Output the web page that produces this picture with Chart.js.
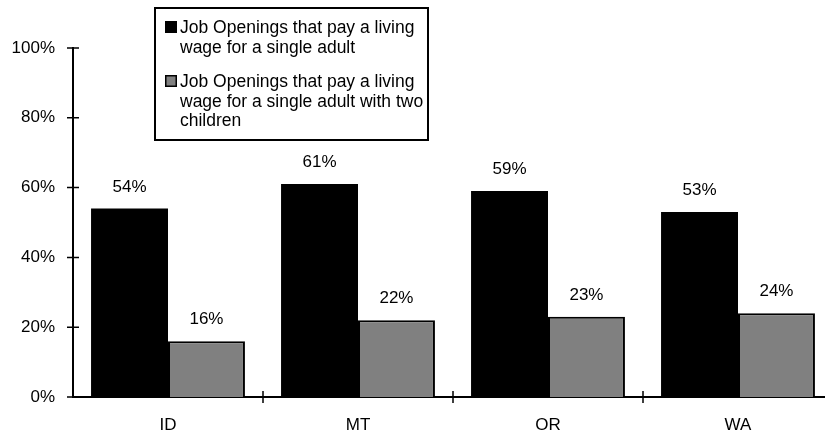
<!DOCTYPE html>
<html lang="en">
<head>
    <meta charset="UTF-8">
    <title>Living wage job openings</title>
    <script src="https://cdn.jsdelivr.net/npm/chart.js@4.4.1/dist/chart.umd.min.js"></script>
    <style>
        body { margin: 0; overflow: hidden; background: #fff; }
        #wrap { width: 845px; height: 434px; position: relative; }
    </style>
</head>
<body>
    <div id="wrap"><canvas id="grafica"></canvas></div>
    <script>
        // data
        const states = ['ID', 'MT', 'OR', 'WA'];
        const singleAdult = [54, 61, 59, 53];
        const withTwoKids = [16, 22, 23, 24];
        const seriesNames = [
            ['Job Openings that pay a living', 'wage for a single adult'],
            ['Job Openings that pay a living', 'wage for a single adult with two', 'children']
        ];
        const yTicks = [0, 20, 40, 60, 80, 100];

        const FAMILY = '"Liberation Sans", Arial, sans-serif';
        const FONT = '17px ' + FAMILY;

        // value labels above each bar
        const valueLabels = {
            id: 'valueLabels',
            afterDatasetsDraw(chart) {
                const ctx = chart.ctx;
                ctx.save();
                ctx.font = FONT;
                ctx.fillStyle = '#000';
                ctx.textAlign = 'center';
                ctx.textBaseline = 'alphabetic';
                chart.data.datasets.forEach((ds, i) => {
                    chart.getDatasetMeta(i).data.forEach((bar, j) => {
                        ctx.fillText(ds.data[j] + '%', bar.x, bar.y - 17);
                    });
                });
                ctx.restore();
            }
        };

        // tick marks that cross the axes
        const crossTicks = {
            id: 'crossTicks',
            afterDraw(chart) {
                const ctx = chart.ctx;
                const x = chart.scales.x, y = chart.scales.y;
                const area = chart.chartArea;
                ctx.save();
                ctx.strokeStyle = '#000';
                ctx.lineWidth = 1.5;
                ctx.beginPath();
                y.ticks.forEach((t, i) => {
                    const py = y.getPixelForTick(i);
                    ctx.moveTo(area.left - 6, py);
                    ctx.lineTo(area.left + 6, py);
                });
                for (let i = 1; i < states.length; i++) {
                    const px = (x.getPixelForValue(i - 1) + x.getPixelForValue(i)) / 2;
                    ctx.moveTo(px, area.bottom - 6);
                    ctx.lineTo(px, area.bottom + 6);
                }
                // axis line runs a little left of the y axis
                ctx.moveTo(area.left - 6, area.bottom);
                ctx.lineTo(area.left, area.bottom);
                ctx.stroke();
                ctx.restore();
            }
        };

        // boxed legend with wrapped labels
        const boxLegend = {
            id: 'boxLegend',
            afterDraw(chart) {
                const ctx = chart.ctx;
                ctx.save();
                ctx.fillStyle = '#fff';
                ctx.fillRect(155, 8, 273, 132);
                ctx.strokeStyle = '#000';
                ctx.lineWidth = 2;
                ctx.strokeRect(155, 8, 273, 132);
                ctx.font = '17.5px ' + FAMILY;
                ctx.textAlign = 'left';
                ctx.textBaseline = 'alphabetic';
                let base = 33;
                chart.data.datasets.forEach((ds, i) => {
                    ctx.fillStyle = ds.backgroundColor;
                    ctx.fillRect(165, base - 12, 12, 12);
                    if (i > 0) {
                        ctx.lineWidth = 1.5;
                        ctx.strokeRect(165.75, base - 11.25, 10.5, 10.5);
                    }
                    ctx.fillStyle = '#000';
                    seriesNames[i].forEach((line, k) => {
                        ctx.fillText(line, 180, base + k * 19.5);
                    });
                    base += seriesNames[i].length * 19.5 + 15;
                });
                ctx.restore();
            }
        };

        const ctx = document.getElementById('grafica').getContext('2d');
        const myChart = new Chart(ctx, {
            type: 'bar',
            data: {
                labels: states,
                datasets: [{
                    label: seriesNames[0].join(' '),
                    backgroundColor: '#000000',
                    borderWidth: 0,
                    data: singleAdult
                }, {
                    label: seriesNames[1].join(' '),
                    backgroundColor: '#808080',
                    borderColor: '#000000',
                    borderWidth: 2,
                    data: withTwoKids
                }]
            },
            options: {
                responsive: true,
                maintainAspectRatio: false,
                animation: false,
                layout: { padding: { top: 48, right: 12, left: 0, bottom: 0 } },
                datasets: { bar: { categoryPercentage: 0.81, barPercentage: 1.0 } },
                plugins: {
                    legend: { display: false },
                    tooltip: { enabled: false }
                },
                scales: {
                    x: {
                        grid: { display: false, drawTicks: false },
                        border: { display: true, color: '#000', width: 2 },
                        ticks: { color: '#000', font: { family: FAMILY, size: 17 }, padding: 18 },
                        afterFit(scale) { scale.height = 37; }
                    },
                    y: {
                        min: 0,
                        max: 100,
                        afterBuildTicks(scale) { scale.ticks = yTicks.map(v => ({ value: v })); },
                        grid: { display: false, drawTicks: false },
                        border: { display: true, color: '#000', width: 2 },
                        ticks: {
                            color: '#000',
                            font: { family: FAMILY, size: 17 },
                            padding: 18,
                            callback: v => v + '%'
                        },
                        afterFit(scale) { scale.width = 73; }
                    }
                }
            },
            plugins: [valueLabels, crossTicks, boxLegend]
        });
    </script>
</body>
</html>
